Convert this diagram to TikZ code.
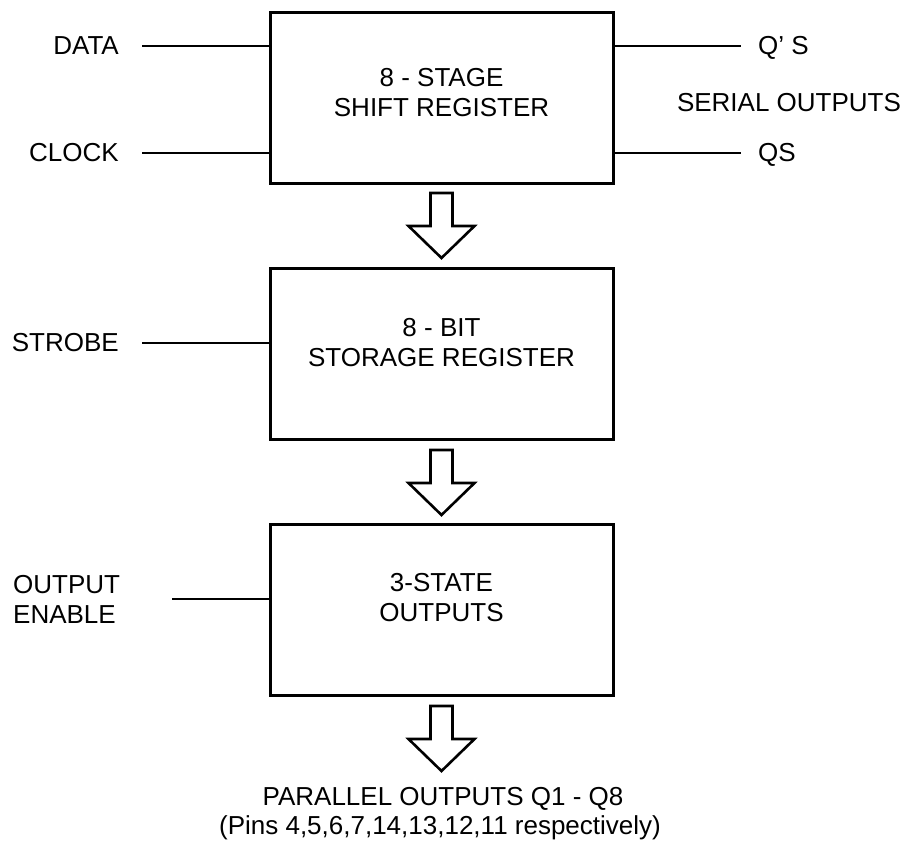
\documentclass[tikz,border=0pt]{standalone}
\usepackage{fontspec}
\setmainfont{Liberation Sans}
\begin{document}
\begin{tikzpicture}[x=1pt,y=1pt,
  box/.style={draw, line width=3pt, minimum width=343pt, minimum height=171pt, inner sep=0pt},
  wire/.style={line width=2.4pt},
  lbl/.style={inner sep=0pt, font=\fontsize{26}{30}\selectfont},
  hollowarrow/.pic={\draw[line width=2.6pt, line join=miter]
     (-11,0) -- (11,0) -- (11,-33) -- (33,-33) -- (0,-65) -- (-33,-33) -- (-11,-33) -- cycle;}
]
\useasboundingbox (0,0) rectangle (905,-853);
% boxes
\node[box] (sr) at (441.5,-98.5) {};
\node[box] (st) at (441.5,-354) {};
\node[box] (ts) at (441.5,-610) {};
% box texts
\node[lbl, anchor=base] (srt1) at (441.5,-87) {8 - STAGE};
\node[lbl, anchor=base] (srt2) at (441.5,-117) {SHIFT REGISTER};
\node[lbl, anchor=base] (stt1) at (441.5,-336) {8 - BIT};
\node[lbl, anchor=base] (stt2) at (441.5,-366) {STORAGE REGISTER};
\node[lbl, anchor=base] (tst1) at (441.5,-591) {3-STATE};
\node[lbl, anchor=base] (tst2) at (441.5,-621) {OUTPUTS};
% block arrows
\coordinate (a1) at (441.5,-193);
\coordinate (a2) at (441.5,-450);
\coordinate (a3) at (441.5,-706);
\pic at (a1) {hollowarrow};
\pic at (a2) {hollowarrow};
\pic at (a3) {hollowarrow};
% left inputs
\node[lbl, anchor=east] (data) at (119,-46) {DATA};
\node[lbl, anchor=east] (clock) at (119,-153) {CLOCK};
\node[lbl, anchor=east] (strobe) at (119,-343) {STROBE};
\node[lbl, anchor=west, align=left] (oe) at (13,-599) {OUTPUT\\ENABLE};
\coordinate (dataS) at (142,-46);
\coordinate (clockS) at (142,-153);
\coordinate (strobeS) at (142,-343);
\coordinate (oeS) at (172,-599);
\draw[wire] (dataS) -- (dataS -| sr.west);
\draw[wire] (clockS) -- (clockS -| sr.west);
\draw[wire] (strobeS) -- (strobeS -| st.west);
\draw[wire] (oeS) -- (oeS -| ts.west);
% right outputs
\node[lbl, anchor=base west] (qps) at (758,-55) {Q’ S};
\node[lbl, anchor=base west] (qs) at (758,-162) {QS};
\node[lbl, anchor=base] (serial) at (789,-112) {SERIAL OUTPUTS};
\coordinate (qpsE) at (741,-46);
\coordinate (qsE) at (741,-153);
\draw[wire] (qpsE -| sr.east) -- (qpsE);
\draw[wire] (qsE -| sr.east) -- (qsE);
% bottom text
\node[lbl, anchor=base] (par1) at (443,-805) {PARALLEL OUTPUTS Q1 - Q8};
\node[lbl, anchor=base] (par2) at (440,-834) {(Pins 4,5,6,7,14,13,12,11 respectively)};
\end{tikzpicture}
\end{document}
